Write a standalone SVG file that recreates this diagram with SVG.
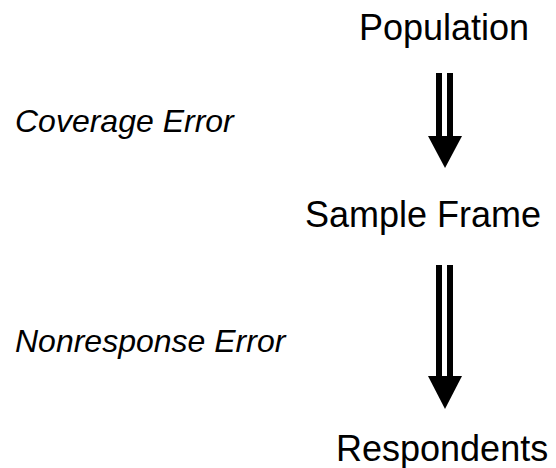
<svg xmlns="http://www.w3.org/2000/svg" width="556" height="468" viewBox="0 0 556 468">
<style>
.lbl{font-family:"Liberation Sans",Arial,sans-serif;font-size:36px;fill:#000}
.err{font-family:"Liberation Sans",Arial,sans-serif;font-size:32px;font-style:italic;fill:#000}
.bar{fill:#000}
</style>
<rect width="556" height="468" fill="#fff"/>
<g id="population"><text class="lbl" x="359" y="40">Population</text></g>
<g id="sample-frame"><text class="lbl" x="305" y="227">Sample Frame</text></g>
<g id="respondents"><text class="lbl" x="336" y="461">Respondents</text></g>
<g id="coverage-error"><text class="err" x="15" y="132">Coverage Error</text></g>
<g id="nonresponse-error"><text class="err" x="15" y="352">Nonresponse Error</text></g>
<g id="connectors">
<g id="arrow1">
<rect class="bar" x="436" y="73" width="6" height="65"/>
<rect class="bar" x="447" y="73" width="6" height="65"/>
<polygon class="bar" points="428,136 462,136 445,168"/>
</g>
<g id="arrow2">
<rect class="bar" x="436" y="265" width="6" height="113"/>
<rect class="bar" x="447" y="265" width="6" height="113"/>
<polygon class="bar" points="428,376 462,376 445,409"/>
</g>
</g>
</svg>
